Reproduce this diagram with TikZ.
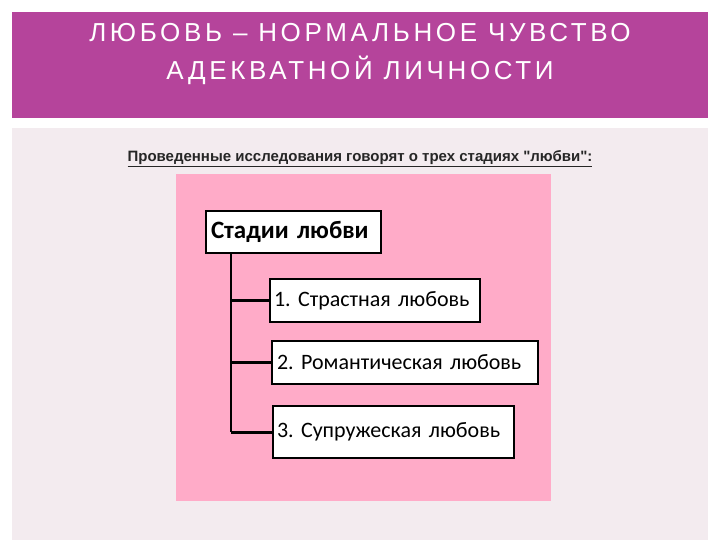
\documentclass[tikz,border=0pt]{standalone}
\usepackage{fontspec}
\setmainfont{Carlito}
\newfontfamily\titlefont[LetterSpace=14]{Liberation Sans}
\newfontfamily\subfont{Liberation Sans}
\definecolor{band}{HTML}{B5449B}
\definecolor{panel}{HTML}{F3EBEF}
\definecolor{pinkbg}{HTML}{FFABC8}
\tikzset{stage/.style={draw=black,line width=2pt,fill=white,anchor=north west,inner sep=0pt,font=\fontsize{22}{26}\selectfont,align=left},
conn/.style={line width=3pt}}
\begin{document}
\frenchspacing
\begin{tikzpicture}[x=1pt,y=-1pt]
\useasboundingbox (0,0) rectangle (720,540);
\fill[white] (0,0) rectangle (720,540);
\fill[band] (12,12) rectangle (708,118);
\fill[panel] (12,128) rectangle (708,540);
\node[text=white,font=\titlefont\fontsize{26}{38}\selectfont,align=center] (title) at (360,54) {ЛЮБОВЬ – НОРМАЛЬНОЕ ЧУВСТВО\\АДЕКВАТНОЙ ЛИЧНОСТИ};
\node[font=\subfont\bfseries\fontsize{15}{17}\selectfont,text=black!85] (sub) at (360,159) {\underline{Проведенные исследования говорят о трех стадиях "любви":}};
\fill[pinkbg] (176,174) rectangle (551,501);
\node[stage,minimum width=175,minimum height=42,font=\bfseries\fontsize{25}{28}\selectfont,text width=165,inner xsep=3pt] (root) at (205,210) {Стадии любви};
\node[stage,minimum width=210,minimum height=43,text width=202,inner xsep=3pt] (s1) at (269,278) {1. Страстная любовь};
\node[stage,minimum width=266,minimum height=43,text width=256,inner xsep=4pt] (s2) at (271,340) {2. Романтическая любовь};
\node[stage,minimum width=241,minimum height=52,text width=233,inner xsep=3pt] (s3) at (272,405) {3. Супружеская любовь};
\coordinate (v) at (231,0);
\draw[line width=2.5pt] (root.south -| v) -- (v |- s3.west);
\draw[conn] (v |- s1.west) -- (s1.west);
\draw[conn] (v |- s2.west) -- (s2.west);
\draw[conn] (v |- s3.west) -- (s3.west);
\end{tikzpicture}
\end{document}
